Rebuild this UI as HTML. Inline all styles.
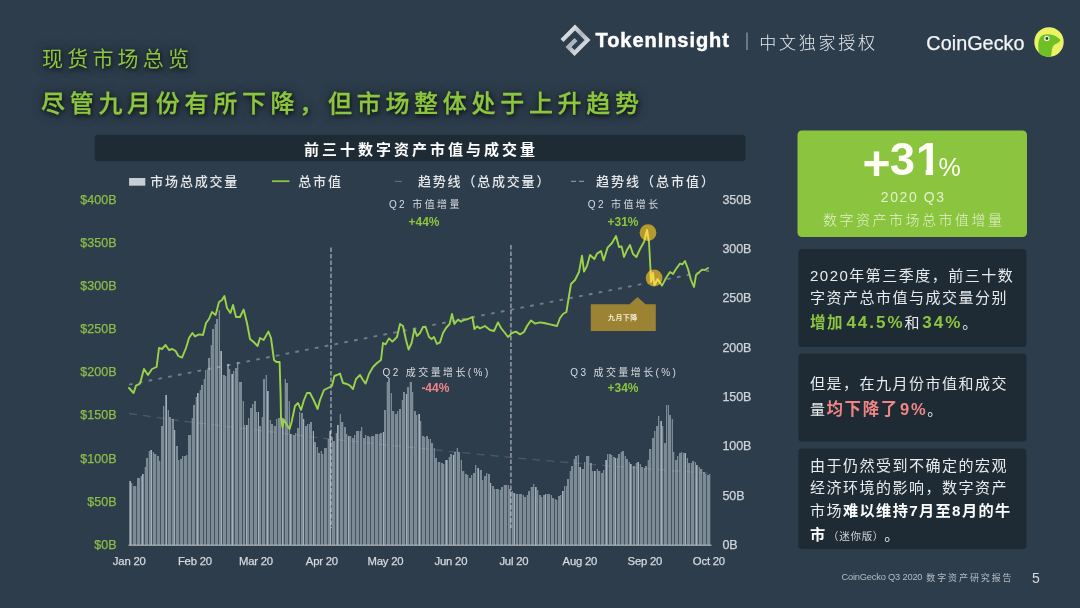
<!DOCTYPE html>
<html lang="zh-CN">
<head>
<meta charset="utf-8">
<title>现货市场总览</title>
<style>
html,body{margin:0;padding:0;background:#2e3d4c;}
body{width:1080px;height:608px;position:relative;overflow:hidden;font-family:'Liberation Sans','Noto Sans CJK SC',sans-serif;}
.chart{position:absolute;left:0;top:0;}
.t{position:absolute;white-space:nowrap;}
.p{position:absolute;left:810px;width:220px;font-size:15px;line-height:23.3px;letter-spacing:1.35px;color:#e8ebee;font-family:'Liberation Sans','Noto Sans CJK SC',sans-serif;white-space:nowrap;}
.p b{font-weight:700;}
</style>
</head>
<body>
<svg class="chart" width="1080" height="608" viewBox="0 0 1080 608">
<defs>
<clipPath id="gk"><circle cx="1049" cy="42" r="14.7"/></clipPath>
<clipPath id="cc"><circle cx="648" cy="232.6" r="8.4"/><circle cx="654.1" cy="278" r="8.4"/></clipPath>
<linearGradient id="sil" x1="0" y1="0" x2="1" y2="1"><stop offset="0" stop-color="#ffffff"/><stop offset=".5" stop-color="#aab3bc"/><stop offset="1" stop-color="#f4f6f8"/></linearGradient>
</defs>
<!-- chart title bar -->
<rect x="94.8" y="134.7" width="650.6" height="26.5" rx="3" fill="#1f2b34"/>
<!-- legend marks -->
<rect x="129.1" y="178" width="16.2" height="7.7" fill="#c6cdd4"/>
<path d="M272 181.2h17.5" stroke="#8cc63f" stroke-width="1.8"/>
<path d="M395 181.4h7" stroke="#8d98a3" stroke-width="1" opacity=".6"/>
<path d="M571 181.4h5M579 181.4h5" stroke="#aab3bc" stroke-width="1.2" opacity=".7"/>
<!-- volume bars -->
<path d="M129 545V481h1h1V483h1h1V486h1h1h1h1V478h1h1h1V476h1h1V474h1h1V467h1h1V458h1h1V451h1h1V450h1h1V452h1h1V454h1h1h1V456h1h1V461h1h1V426h1h1V406h1h1V395h1h1V410h1h1V417h1h1V419h1h1h1V430h1h1V446h1h1V460h1h1V459h1h1V456h1h1h1h1V455h1h1V435h1h1h1V418h1h1V405h1h1V397h1h1V393h1h1V390h1h1V385h1h1V379h1h1V370h1h1h1V358h1h1V345h1h1V329h1h1V324h1h1V319h1h1V310h1h1V351h1h1V375h1h1h1V376h1h1V364h1h1V369h1h1V374h1h1V371h1h1V368h1h1V362h1h1V382h1h1h1V401h1h1V425h1h1h1h1V418h1h1V408h1h1V404h1h1V401h1h1V412h1h1h1V426h1h1V417h1h1V379h1h1V375h1h1V391h1h1V420h1h1V424h1h1V426h1h1h1V419h1h1V418h1h1V417h1h1V418h1h1V379h1h1V383h1h1V401h1h1V434h1h1h1V435h1h1V433h1h1V428h1h1V412h1h1V413h1h1V419h1h1V426h1h1V424h1h1h1V422h1h1V431h1h1V442h1h1V447h1h1V453h1h1V451h1h1V454h1h1V448h1h1h1V439h1h1V431h1h1V437h1h1V441h1h1V433h1h1V425h1h1V414h1h1V422h1h1h1V427h1h1V434h1h1V436h1h1h1h1V438h1h1V435h1h1V431h1h1h1h1h1V427h1h1V438h1h1V435h1h1V436h1h1V437h1h1V436h1h1h1h1V434h1h1h1h1h1V433h1h1V432h1h1V410h1h1V382h1h1V378h1h1V393h1h1V411h1h1h1V414h1h1V411h1h1V409h1h1V400h1h1V392h1h1V394h1h1V387h1h1V382h1h1h1V392h1h1V411h1h1V415h1h1V414h1h1V421h1h1V436h1h1V437h1h1V436h1h1V439h1h1h1V443h1h1V448h1h1V458h1h1V462h1h1h1h1V463h1h1V464h1h1V460h1h1h1V457h1h1V454h1h1V455h1h1V452h1h1V448h1h1V452h1h1V460h1h1V471h1h1h1V474h1h1V475h1h1V478h1h1V475h1h1V473h1h1V465h1h1V468h1h1V470h1h1h1V480h1h1V476h1h1V473h1h1V474h1h1V483h1h1V486h1h1V489h1h1h1h1h1V490h1h1V487h1h1V485h1h1h1h1h1h1V489h1h1V491h1h1V493h1h1h1V494h1h1h1h1h1h1V495h1h1V497h1h1V495h1h1V491h1h1V487h1h1h1V484h1h1V487h1h1V490h1h1V495h1h1V497h1h1V495h1h1V494h1h1h1h1h1V495h1h1V498h1h1V499h1h1V500h1h1V496h1h1V495h1h1V491h1h1V486h1h1h1V479h1h1V471h1h1V466h1h1V459h1h1V456h1h1V455h1h1V467h1h1V469h1h1h1V462h1h1V456h1h1h1h1V463h1h1V471h1h1h1h1V469h1h1V471h1h1h1V473h1h1V470h1h1V460h1h1V454h1h1h1h1V455h1h1V457h1h1V458h1h1h1V454h1h1V452h1h1V451h1h1V456h1h1V459h1h1V462h1h1V464h1h1V466h1h1h1V463h1h1V462h1h1V464h1h1V467h1h1V468h1h1V466h1h1V460h1h1V449h1h1h1V438h1h1V431h1h1V426h1h1V416h1h1V421h1h1V426h1h1V443h1h1V405h1h1h1V415h1h1V419h1h1V452h1h1V460h1h1V456h1h1V453h1h1V452h1h1V453h1h1h1V458h1h1V463h1h1h1h1V461h1h1V462h1h1V465h1h1V467h1h1V469h1h1h1V472h1h1V474h1h1V475h1h1V474h1h1V545z" fill="#46545f" shape-rendering="crispEdges"/>
<path d="M129 545V481h1h1V483h1V545zM133 545V486h1h1h1V545zM137 545V478h1h1h1V545zM141 545V476h1V474h1h1V545zM145 545V467h1V458h1h1V545zM149 545V451h1V450h1h1V545zM153 545V452h1V454h1h1V545zM157 545V456h1h1V461h1V545zM161 545V426h1h1V406h1V545zM165 545V395h1h1V545zM168 545V410h1V417h1h1V545zM172 545V419h1h1V430h1V545zM176 545V446h1h1V460h1V545zM180 545V459h1h1V456h1V545zM184 545V456h1h1V455h1V545zM188 545V435h1h1h1V545zM192 545V418h1V405h1h1V545zM196 545V397h1V393h1h1V545zM200 545V390h1V385h1h1V545zM204 545V379h1V370h1V545zM207 545V370h1V358h1h1V545zM211 545V345h1V329h1h1V545zM215 545V324h1V319h1h1V545zM219 545V310h1V351h1h1V545zM223 545V375h1h1V376h1V545zM227 545V364h1h1V369h1V545zM231 545V374h1h1V371h1V545zM235 545V368h1h1V362h1V545zM239 545V382h1h1h1V545zM243 545V401h1V425h1V545zM246 545V425h1h1V418h1V545zM250 545V408h1h1V404h1V545zM254 545V401h1h1V412h1V545zM258 545V412h1V426h1h1V545zM262 545V417h1V379h1h1V545zM266 545V375h1V391h1h1V545zM270 545V420h1V424h1h1V545zM274 545V426h1h1V419h1V545zM278 545V418h1h1V417h1V545zM282 545V418h1h1V545zM285 545V379h1V383h1h1V545zM289 545V401h1V434h1h1V545zM293 545V435h1h1V433h1V545zM297 545V428h1h1V412h1V545zM301 545V413h1h1V419h1V545zM305 545V426h1h1V424h1V545zM309 545V424h1V422h1h1V545zM313 545V431h1V442h1h1V545zM317 545V447h1V453h1h1V545zM321 545V451h1V454h1V545zM324 545V448h1h1h1V545zM328 545V439h1V431h1h1V545zM332 545V437h1V441h1h1V545zM336 545V433h1V425h1h1V545zM340 545V414h1V422h1h1V545zM344 545V427h1h1V434h1V545zM348 545V436h1h1h1V545zM352 545V438h1h1V435h1V545zM356 545V431h1h1h1V545zM360 545V431h1V427h1V545zM363 545V438h1h1V435h1V545zM367 545V436h1h1V437h1V545zM371 545V436h1h1h1V545zM375 545V434h1h1h1V545zM379 545V434h1V433h1h1V545zM383 545V432h1V410h1h1V545zM387 545V382h1V378h1h1V545zM391 545V393h1V411h1h1V545zM395 545V414h1h1V411h1V545zM399 545V409h1h1V545zM402 545V400h1V392h1h1V545zM406 545V394h1V387h1h1V545zM410 545V382h1h1V392h1V545zM414 545V411h1h1V415h1V545zM418 545V414h1h1V421h1V545zM422 545V436h1h1V437h1V545zM426 545V436h1h1V439h1V545zM430 545V439h1V443h1h1V545zM434 545V448h1V458h1h1V545zM438 545V462h1h1V545zM441 545V463h1h1V464h1V545zM445 545V460h1h1h1V545zM449 545V457h1V454h1h1V545zM453 545V455h1V452h1h1V545zM457 545V448h1V452h1h1V545zM461 545V460h1V471h1h1V545zM465 545V474h1h1V475h1V545zM469 545V478h1h1V475h1V545zM473 545V473h1h1V465h1V545zM477 545V468h1h1V545zM480 545V470h1h1V480h1V545zM484 545V476h1h1V473h1V545zM488 545V474h1h1V483h1V545zM492 545V486h1h1V489h1V545zM496 545V489h1h1h1V545zM500 545V490h1V487h1h1V545zM504 545V485h1h1h1V545zM508 545V485h1V489h1h1V545zM512 545V491h1V493h1h1V545zM516 545V494h1h1V545zM519 545V494h1h1h1V545zM523 545V495h1V497h1h1V545zM527 545V495h1V491h1h1V545zM531 545V487h1h1V484h1V545zM535 545V487h1h1V490h1V545zM539 545V495h1h1V497h1V545zM543 545V495h1h1V494h1V545zM547 545V494h1h1h1V545zM551 545V495h1V498h1h1V545zM555 545V499h1V500h1V545zM558 545V496h1h1V495h1V545zM562 545V491h1h1V486h1V545zM566 545V486h1V479h1h1V545zM570 545V471h1V466h1h1V545zM574 545V459h1V456h1h1V545zM578 545V455h1V467h1h1V545zM582 545V469h1h1V462h1V545zM586 545V456h1h1h1V545zM590 545V463h1h1V471h1V545zM594 545V471h1h1V545zM597 545V469h1V471h1h1V545zM601 545V473h1h1V470h1V545zM605 545V460h1h1V454h1V545zM609 545V454h1h1V455h1V545zM613 545V457h1h1V458h1V545zM617 545V458h1V454h1h1V545zM621 545V452h1V451h1h1V545zM625 545V456h1V459h1h1V545zM629 545V462h1V464h1h1V545zM633 545V466h1h1V545zM636 545V463h1V462h1h1V545zM640 545V464h1V467h1h1V545zM644 545V468h1V466h1h1V545zM648 545V460h1V449h1h1V545zM652 545V438h1h1V431h1V545zM656 545V426h1h1V416h1V545zM660 545V421h1h1V426h1V545zM664 545V443h1h1V405h1V545zM668 545V405h1V415h1h1V545zM672 545V419h1V452h1V545zM675 545V460h1h1V456h1V545zM679 545V453h1h1V452h1V545zM683 545V453h1h1h1V545zM687 545V458h1V463h1h1V545zM691 545V463h1V461h1h1V545zM695 545V462h1V465h1h1V545zM699 545V467h1V469h1h1V545zM703 545V472h1h1V474h1V545zM707 545V475h1h1V474h1V545z" fill="#7d8b96" shape-rendering="crispEdges"/>
<path d="M130 545V481h1V545zM142 545V474h1V545zM151 545V450h1V545zM166 545V395h1V545zM174 545V430h1V545zM197 545V393h1V545zM221 545V351h1V545zM232 545V374h1V545zM246 545V425h1V545zM258 545V412h1V545zM267 545V391h1V545zM282 545V418h1V545zM290 545V434h1V545zM303 545V419h1V545zM313 545V431h1V545zM330 545V431h1V545zM337 545V425h1V545zM348 545V436h1V545zM383 545V432h1V545zM406 545V394h1V545zM419 545V414h1V545zM446 545V460h1V545zM453 545V455h1V545zM478 545V468h1V545zM490 545V483h1V545zM514 545V493h1V545zM535 545V487h1V545zM545 545V494h1V545zM562 545V491h1V545zM580 545V467h1V545zM594 545V471h1V545zM606 545V460h1V545zM615 545V458h1V545zM630 545V464h1V545zM638 545V462h1V545zM661 545V421h1V545zM685 545V453h1V545zM696 545V465h1V545z" fill="#a3afb9" shape-rendering="crispEdges"/>
<!-- vertical quarter markers -->
<path d="M331 247.5V528M510.9 245V528" stroke="#c9d0d6" stroke-width="1.6" stroke-dasharray="4.4 2.1" opacity=".62" fill="none"/>
<path d="M128.5 545.2H711.5" stroke="#c3cad1" stroke-width="1"/>
<!-- trend lines -->
<path d="M129 413.5L182 421L321 438L446 451L520 458.4L598 465L678 471L711 473.5" stroke="#b8c1ca" stroke-width="1.3" stroke-dasharray="8 6" opacity=".22" fill="none"/>
<path d="M129 384.6L709 270.9" stroke="#b4bdc6" stroke-width="1.9" stroke-dasharray="3.7 6.27" opacity=".5" fill="none"/>
<!-- highlight circles -->
<!-- market cap line -->
<path d="M129.0 388.0L133.6 393.0L136.0 385.6L140.0 383.6L144.0 369.0L148.0 375.0L152.0 369.0L156.6 367.0L159.0 348.0L162.0 349.0L165.6 345.0L169.0 350.0L172.4 349.0L175.6 351.0L178.4 356.0L182.0 357.6L186.0 348.0L189.0 338.0L192.4 333.0L195.0 336.4L199.0 334.4L203.0 335.0L206.0 323.0L209.0 319.0L212.0 312.0L215.6 315.0L219.0 302.0L222.0 300.0L224.4 296.0L227.0 308.0L230.4 313.0L233.0 305.0L236.0 317.0L240.0 317.0L243.6 309.6L247.0 323.0L250.0 339.0L253.6 342.0L257.6 346.0L260.0 338.0L263.6 340.0L268.4 331.6L271.0 338.0L274.0 360.0L276.4 362.0L279.6 362.0L280.6 395.0L281.0 418.0L282.4 427.0L284.0 420.0L287.0 425.0L289.6 429.0L291.6 422.0L295.0 406.0L298.0 403.0L301.0 410.0L304.0 400.0L307.0 393.0L310.0 393.0L313.6 400.0L317.6 409.0L320.0 400.0L324.0 390.0L328.0 388.0L332.0 386.0L334.4 376.0L337.0 375.0L340.0 373.6L343.0 383.0L347.0 384.0L350.0 385.6L353.0 389.0L356.0 379.0L360.0 375.0L363.0 380.0L365.6 383.6L369.0 374.0L373.0 367.0L377.0 363.0L381.0 360.0L383.0 343.0L385.6 344.4L389.0 338.4L392.4 341.6L397.0 337.0L400.0 324.0L403.0 326.0L406.0 340.0L408.6 349.6L411.6 343.0L414.4 329.0L417.0 336.0L420.0 333.0L423.0 327.0L425.6 327.0L429.0 337.0L431.6 339.0L434.0 337.0L437.0 344.0L440.0 342.4L443.0 333.0L446.0 328.0L449.6 324.0L452.0 314.0L454.4 324.0L458.0 319.6L461.0 321.6L464.0 320.0L468.0 319.0L472.4 317.0L474.4 329.0L477.0 326.4L480.0 328.4L485.0 326.0L490.0 330.0L494.0 331.0L498.0 322.4L501.0 328.0L505.0 333.0L508.0 337.0L512.0 333.0L516.0 331.6L520.0 334.4L524.0 332.0L527.0 326.0L531.0 320.4L535.0 323.6L540.0 322.4L544.0 323.0L550.0 324.4L557.0 326.0L560.0 318.0L563.0 314.0L566.4 312.0L569.0 296.0L571.0 284.0L575.0 280.0L579.0 272.0L582.0 255.6L584.0 271.6L587.0 266.0L590.0 255.0L594.4 259.0L597.0 253.6L601.0 251.0L603.6 260.4L607.6 247.6L612.0 243.0L616.0 236.0L619.0 247.0L621.6 246.4L624.0 257.0L627.0 250.0L630.0 245.0L633.0 254.0L636.4 257.0L640.0 249.0L644.0 242.0L647.0 230.0L649.0 242.0L650.4 268.0L651.0 282.0L653.0 273.0L654.4 285.0L657.6 279.0L662.0 285.6L666.0 278.0L670.0 272.0L673.0 274.0L676.0 269.0L680.0 263.6L682.4 264.4L685.0 261.0L688.0 269.0L691.0 280.0L694.0 287.0L696.0 275.0L699.0 272.4L702.0 269.6L705.0 270.0L708.0 268.0" stroke="#9ad34a" stroke-width="1.9" stroke-linejoin="round" stroke-linecap="round" fill="none"/>
<circle cx="648" cy="232.6" r="8.4" fill="#c2a22c" opacity=".92"/>
<circle cx="654.1" cy="278" r="8.4" fill="#c2a22c" opacity=".92"/>
<g clip-path="url(#cc)"><path d="M129.0 388.0L133.6 393.0L136.0 385.6L140.0 383.6L144.0 369.0L148.0 375.0L152.0 369.0L156.6 367.0L159.0 348.0L162.0 349.0L165.6 345.0L169.0 350.0L172.4 349.0L175.6 351.0L178.4 356.0L182.0 357.6L186.0 348.0L189.0 338.0L192.4 333.0L195.0 336.4L199.0 334.4L203.0 335.0L206.0 323.0L209.0 319.0L212.0 312.0L215.6 315.0L219.0 302.0L222.0 300.0L224.4 296.0L227.0 308.0L230.4 313.0L233.0 305.0L236.0 317.0L240.0 317.0L243.6 309.6L247.0 323.0L250.0 339.0L253.6 342.0L257.6 346.0L260.0 338.0L263.6 340.0L268.4 331.6L271.0 338.0L274.0 360.0L276.4 362.0L279.6 362.0L280.6 395.0L281.0 418.0L282.4 427.0L284.0 420.0L287.0 425.0L289.6 429.0L291.6 422.0L295.0 406.0L298.0 403.0L301.0 410.0L304.0 400.0L307.0 393.0L310.0 393.0L313.6 400.0L317.6 409.0L320.0 400.0L324.0 390.0L328.0 388.0L332.0 386.0L334.4 376.0L337.0 375.0L340.0 373.6L343.0 383.0L347.0 384.0L350.0 385.6L353.0 389.0L356.0 379.0L360.0 375.0L363.0 380.0L365.6 383.6L369.0 374.0L373.0 367.0L377.0 363.0L381.0 360.0L383.0 343.0L385.6 344.4L389.0 338.4L392.4 341.6L397.0 337.0L400.0 324.0L403.0 326.0L406.0 340.0L408.6 349.6L411.6 343.0L414.4 329.0L417.0 336.0L420.0 333.0L423.0 327.0L425.6 327.0L429.0 337.0L431.6 339.0L434.0 337.0L437.0 344.0L440.0 342.4L443.0 333.0L446.0 328.0L449.6 324.0L452.0 314.0L454.4 324.0L458.0 319.6L461.0 321.6L464.0 320.0L468.0 319.0L472.4 317.0L474.4 329.0L477.0 326.4L480.0 328.4L485.0 326.0L490.0 330.0L494.0 331.0L498.0 322.4L501.0 328.0L505.0 333.0L508.0 337.0L512.0 333.0L516.0 331.6L520.0 334.4L524.0 332.0L527.0 326.0L531.0 320.4L535.0 323.6L540.0 322.4L544.0 323.0L550.0 324.4L557.0 326.0L560.0 318.0L563.0 314.0L566.4 312.0L569.0 296.0L571.0 284.0L575.0 280.0L579.0 272.0L582.0 255.6L584.0 271.6L587.0 266.0L590.0 255.0L594.4 259.0L597.0 253.6L601.0 251.0L603.6 260.4L607.6 247.6L612.0 243.0L616.0 236.0L619.0 247.0L621.6 246.4L624.0 257.0L627.0 250.0L630.0 245.0L633.0 254.0L636.4 257.0L640.0 249.0L644.0 242.0L647.0 230.0L649.0 242.0L650.4 268.0L651.0 282.0L653.0 273.0L654.4 285.0L657.6 279.0L662.0 285.6L666.0 278.0L670.0 272.0L673.0 274.0L676.0 269.0L680.0 263.6L682.4 264.4L685.0 261.0L688.0 269.0L691.0 280.0L694.0 287.0L696.0 275.0L699.0 272.4L702.0 269.6L705.0 270.0L708.0 268.0" stroke="#ecd94c" stroke-width="1.9" stroke-linejoin="round" stroke-linecap="round" fill="none"/></g>
<!-- gold callout -->
<path d="M590.8 304.2H629.5L637.5 297L645.5 304.2H655.8V331H590.8z" fill="#9c8233"/>
<!-- right panel -->
<rect x="797.5" y="130.5" width="229.5" height="106.5" rx="4.5" fill="#8bc53f"/>
<rect x="798.3" y="249" width="228.2" height="98" rx="3.5" fill="#1f2b34"/>
<rect x="798.3" y="353.5" width="228.2" height="88" rx="3.5" fill="#1f2b34"/>
<rect x="798.3" y="448.5" width="228.2" height="100.5" rx="3.5" fill="#1f2b34"/>
<!-- TokenInsight mark -->
<g fill="none" stroke="url(#sil)" stroke-width="4.2" stroke-linejoin="miter">
<path d="M562 40.5L575 27.5L587.5 40L574.5 53L568.5 47L576 39.5"/>
</g>
<path d="M747 32.5V50" stroke="#a9b2bb" stroke-width="1"/>
<!-- CoinGecko mark -->
<circle cx="1049" cy="42" r="14.7" fill="#ebf266"/>
<g clip-path="url(#gk)"><path d="M1039 53C1037.600 46 1038 37.500 1042.500 35.200C1047 33.400 1053 34 1057 37C1059 38.500 1060.600 39.500 1060.200 40.600C1059.400 43 1055 43.600 1053 46.500C1051.300 49.500 1052 54 1050.500 58H1040z" fill="#6ec024"/></g>
<circle cx="1046.8" cy="38.4" r="2.7" fill="#eef4e0"/>
<circle cx="1046.9" cy="38.5" r="1.4" fill="#2c3a2a"/>
</svg>
<div class="t" style="top:42.8px;height:29px;line-height:29px;font-size:21px;color:#8cc63f;font-weight:400;font-family:'Noto Sans CJK SC','Liberation Sans',sans-serif;letter-spacing:4.2px;left:42.0px;text-shadow:1px 2px 4px rgba(0,0,0,.6),0 1px 9px rgba(0,0,0,.5),0 0 14px rgba(0,0,0,.25);">现货市场总览</div>
<div class="t" style="top:85.0px;height:34px;line-height:34px;font-size:24px;color:#8cc63f;font-weight:500;font-family:'Noto Sans CJK SC','Liberation Sans',sans-serif;letter-spacing:4.7px;left:41.0px;text-shadow:1px 2px 4px rgba(0,0,0,.6),0 1px 9px rgba(0,0,0,.5),0 0 14px rgba(0,0,0,.25);-webkit-text-stroke:.3px #8cc63f;">尽管九月份有所下降，但市场整体处于上升趋势</div>
<div class="t" style="top:25.8px;height:28px;line-height:28px;font-size:20px;color:#fff;font-weight:700;font-family:'Liberation Sans','Noto Sans CJK SC',sans-serif;letter-spacing:0.95px;left:595.5px;-webkit-text-stroke:.45px #fff;">TokenInsight</div>
<div class="t" style="top:29.6px;height:24px;line-height:24px;font-size:17px;color:#e4e8ec;font-weight:300;font-family:'Noto Sans CJK SC','Liberation Sans',sans-serif;letter-spacing:2.75px;left:759.3px;">中文独家授权</div>
<div class="t" style="top:29.2px;height:28px;line-height:28px;font-size:19.8px;color:#f2f4f6;font-weight:400;font-family:'Liberation Sans','Noto Sans CJK SC',sans-serif;letter-spacing:0.05px;left:926.3px;-webkit-text-stroke:.25px #f2f4f6;">CoinGecko</div>
<div class="t" style="top:137.5px;height:21px;line-height:21px;font-size:15px;color:#fff;font-weight:700;font-family:'Noto Sans CJK SC','Liberation Sans',sans-serif;letter-spacing:3.0px;left:119.5px;width:600px;text-align:center;text-indent:3.0px;">前三十数字资产市值与成交量</div>
<div class="t" style="top:171.8px;height:18px;line-height:18px;font-size:13px;color:#e6e9ec;font-weight:500;font-family:'Noto Sans CJK SC','Liberation Sans',sans-serif;letter-spacing:1.8px;left:150.3px;">市场总成交量</div>
<div class="t" style="top:171.8px;height:18px;line-height:18px;font-size:13px;color:#e6e9ec;font-weight:500;font-family:'Noto Sans CJK SC','Liberation Sans',sans-serif;letter-spacing:1.8px;left:298.3px;">总市值</div>
<div class="t" style="top:171.8px;height:18px;line-height:18px;font-size:13px;color:#e6e9ec;font-weight:500;font-family:'Noto Sans CJK SC','Liberation Sans',sans-serif;letter-spacing:1.8px;left:418.0px;">趋势线（总成交量）</div>
<div class="t" style="top:171.8px;height:18px;line-height:18px;font-size:13px;color:#e6e9ec;font-weight:500;font-family:'Noto Sans CJK SC','Liberation Sans',sans-serif;letter-spacing:2.0px;left:596.0px;">趋势线（总市值）</div>
<div class="t" style="top:190.5px;height:18px;line-height:18px;font-size:12.5px;color:#8bbd48;font-weight:400;font-family:'Liberation Sans','Noto Sans CJK SC',sans-serif;letter-spacing:0.05px;right:963.5px;margin-right:-0.05px;-webkit-text-stroke:.25px #8bbd48;">$400B</div>
<div class="t" style="top:233.7px;height:18px;line-height:18px;font-size:12.5px;color:#8bbd48;font-weight:400;font-family:'Liberation Sans','Noto Sans CJK SC',sans-serif;letter-spacing:0.05px;right:963.5px;margin-right:-0.05px;-webkit-text-stroke:.25px #8bbd48;">$350B</div>
<div class="t" style="top:276.9px;height:18px;line-height:18px;font-size:12.5px;color:#8bbd48;font-weight:400;font-family:'Liberation Sans','Noto Sans CJK SC',sans-serif;letter-spacing:0.05px;right:963.5px;margin-right:-0.05px;-webkit-text-stroke:.25px #8bbd48;">$300B</div>
<div class="t" style="top:320.1px;height:18px;line-height:18px;font-size:12.5px;color:#8bbd48;font-weight:400;font-family:'Liberation Sans','Noto Sans CJK SC',sans-serif;letter-spacing:0.05px;right:963.5px;margin-right:-0.05px;-webkit-text-stroke:.25px #8bbd48;">$250B</div>
<div class="t" style="top:363.2px;height:18px;line-height:18px;font-size:12.5px;color:#8bbd48;font-weight:400;font-family:'Liberation Sans','Noto Sans CJK SC',sans-serif;letter-spacing:0.05px;right:963.5px;margin-right:-0.05px;-webkit-text-stroke:.25px #8bbd48;">$200B</div>
<div class="t" style="top:406.4px;height:18px;line-height:18px;font-size:12.5px;color:#8bbd48;font-weight:400;font-family:'Liberation Sans','Noto Sans CJK SC',sans-serif;letter-spacing:0.05px;right:963.5px;margin-right:-0.05px;-webkit-text-stroke:.25px #8bbd48;">$150B</div>
<div class="t" style="top:449.6px;height:18px;line-height:18px;font-size:12.5px;color:#8bbd48;font-weight:400;font-family:'Liberation Sans','Noto Sans CJK SC',sans-serif;letter-spacing:0.05px;right:963.5px;margin-right:-0.05px;-webkit-text-stroke:.25px #8bbd48;">$100B</div>
<div class="t" style="top:492.8px;height:18px;line-height:18px;font-size:12.5px;color:#8bbd48;font-weight:400;font-family:'Liberation Sans','Noto Sans CJK SC',sans-serif;letter-spacing:0.05px;right:963.5px;margin-right:-0.05px;-webkit-text-stroke:.25px #8bbd48;">$50B</div>
<div class="t" style="top:536.0px;height:18px;line-height:18px;font-size:12.5px;color:#8bbd48;font-weight:400;font-family:'Liberation Sans','Noto Sans CJK SC',sans-serif;letter-spacing:0.05px;right:963.5px;margin-right:-0.05px;-webkit-text-stroke:.25px #8bbd48;">$0B</div>
<div class="t" style="top:190.5px;height:18px;line-height:18px;font-size:12.5px;color:#cfd4d9;font-weight:400;font-family:'Liberation Sans','Noto Sans CJK SC',sans-serif;letter-spacing:-0.1px;left:722.5px;-webkit-text-stroke:.25px #cfd4d9;">350B</div>
<div class="t" style="top:239.9px;height:18px;line-height:18px;font-size:12.5px;color:#cfd4d9;font-weight:400;font-family:'Liberation Sans','Noto Sans CJK SC',sans-serif;letter-spacing:-0.1px;left:722.5px;-webkit-text-stroke:.25px #cfd4d9;">300B</div>
<div class="t" style="top:289.2px;height:18px;line-height:18px;font-size:12.5px;color:#cfd4d9;font-weight:400;font-family:'Liberation Sans','Noto Sans CJK SC',sans-serif;letter-spacing:-0.1px;left:722.5px;-webkit-text-stroke:.25px #cfd4d9;">250B</div>
<div class="t" style="top:338.6px;height:18px;line-height:18px;font-size:12.5px;color:#cfd4d9;font-weight:400;font-family:'Liberation Sans','Noto Sans CJK SC',sans-serif;letter-spacing:-0.1px;left:722.5px;-webkit-text-stroke:.25px #cfd4d9;">200B</div>
<div class="t" style="top:387.9px;height:18px;line-height:18px;font-size:12.5px;color:#cfd4d9;font-weight:400;font-family:'Liberation Sans','Noto Sans CJK SC',sans-serif;letter-spacing:-0.1px;left:722.5px;-webkit-text-stroke:.25px #cfd4d9;">150B</div>
<div class="t" style="top:437.3px;height:18px;line-height:18px;font-size:12.5px;color:#cfd4d9;font-weight:400;font-family:'Liberation Sans','Noto Sans CJK SC',sans-serif;letter-spacing:-0.1px;left:722.5px;-webkit-text-stroke:.25px #cfd4d9;">100B</div>
<div class="t" style="top:486.6px;height:18px;line-height:18px;font-size:12.5px;color:#cfd4d9;font-weight:400;font-family:'Liberation Sans','Noto Sans CJK SC',sans-serif;letter-spacing:-0.1px;left:722.5px;-webkit-text-stroke:.25px #cfd4d9;">50B</div>
<div class="t" style="top:536.0px;height:18px;line-height:18px;font-size:12.5px;color:#cfd4d9;font-weight:400;font-family:'Liberation Sans','Noto Sans CJK SC',sans-serif;letter-spacing:-0.1px;left:722.5px;-webkit-text-stroke:.25px #cfd4d9;">0B</div>
<div class="t" style="top:552.8px;height:16px;line-height:16px;font-size:11.3px;color:#d5dade;font-weight:400;font-family:'Liberation Sans','Noto Sans CJK SC',sans-serif;letter-spacing:-0.2px;left:-170.7px;width:600px;text-align:center;text-indent:-0.2px;-webkit-text-stroke:.25px #d5dade;">Jan 20</div>
<div class="t" style="top:552.8px;height:16px;line-height:16px;font-size:11.3px;color:#d5dade;font-weight:400;font-family:'Liberation Sans','Noto Sans CJK SC',sans-serif;letter-spacing:-0.2px;left:-105.0px;width:600px;text-align:center;text-indent:-0.2px;-webkit-text-stroke:.25px #d5dade;">Feb 20</div>
<div class="t" style="top:552.8px;height:16px;line-height:16px;font-size:11.3px;color:#d5dade;font-weight:400;font-family:'Liberation Sans','Noto Sans CJK SC',sans-serif;letter-spacing:-0.2px;left:-44.0px;width:600px;text-align:center;text-indent:-0.2px;-webkit-text-stroke:.25px #d5dade;">Mar 20</div>
<div class="t" style="top:552.8px;height:16px;line-height:16px;font-size:11.3px;color:#d5dade;font-weight:400;font-family:'Liberation Sans','Noto Sans CJK SC',sans-serif;letter-spacing:-0.2px;left:22.0px;width:600px;text-align:center;text-indent:-0.2px;-webkit-text-stroke:.25px #d5dade;">Apr 20</div>
<div class="t" style="top:552.8px;height:16px;line-height:16px;font-size:11.3px;color:#d5dade;font-weight:400;font-family:'Liberation Sans','Noto Sans CJK SC',sans-serif;letter-spacing:-0.2px;left:85.5px;width:600px;text-align:center;text-indent:-0.2px;-webkit-text-stroke:.25px #d5dade;">May 20</div>
<div class="t" style="top:552.8px;height:16px;line-height:16px;font-size:11.3px;color:#d5dade;font-weight:400;font-family:'Liberation Sans','Noto Sans CJK SC',sans-serif;letter-spacing:-0.2px;left:151.0px;width:600px;text-align:center;text-indent:-0.2px;-webkit-text-stroke:.25px #d5dade;">Jun 20</div>
<div class="t" style="top:552.8px;height:16px;line-height:16px;font-size:11.3px;color:#d5dade;font-weight:400;font-family:'Liberation Sans','Noto Sans CJK SC',sans-serif;letter-spacing:-0.2px;left:214.0px;width:600px;text-align:center;text-indent:-0.2px;-webkit-text-stroke:.25px #d5dade;">Jul 20</div>
<div class="t" style="top:552.8px;height:16px;line-height:16px;font-size:11.3px;color:#d5dade;font-weight:400;font-family:'Liberation Sans','Noto Sans CJK SC',sans-serif;letter-spacing:-0.2px;left:280.0px;width:600px;text-align:center;text-indent:-0.2px;-webkit-text-stroke:.25px #d5dade;">Aug 20</div>
<div class="t" style="top:552.8px;height:16px;line-height:16px;font-size:11.3px;color:#d5dade;font-weight:400;font-family:'Liberation Sans','Noto Sans CJK SC',sans-serif;letter-spacing:-0.2px;left:345.0px;width:600px;text-align:center;text-indent:-0.2px;-webkit-text-stroke:.25px #d5dade;">Sep 20</div>
<div class="t" style="top:552.8px;height:16px;line-height:16px;font-size:11.3px;color:#d5dade;font-weight:400;font-family:'Liberation Sans','Noto Sans CJK SC',sans-serif;letter-spacing:-0.2px;left:409.0px;width:600px;text-align:center;text-indent:-0.2px;-webkit-text-stroke:.25px #d5dade;">Oct 20</div>
<div class="t" style="top:197.5px;height:14px;line-height:14px;font-size:10px;color:#d6dbe0;font-weight:400;font-family:'Liberation Sans','Noto Sans CJK SC',sans-serif;letter-spacing:2.4px;left:124.2px;width:600px;text-align:center;text-indent:2.4px;">Q2 市值增量</div>
<div class="t" style="top:213.8px;height:17px;line-height:17px;font-size:12px;color:#8cc63f;font-weight:700;font-family:'Liberation Sans','Noto Sans CJK SC',sans-serif;left:124.0px;width:600px;text-align:center;">+44%</div>
<div class="t" style="top:197.8px;height:14px;line-height:14px;font-size:10px;color:#d6dbe0;font-weight:400;font-family:'Liberation Sans','Noto Sans CJK SC',sans-serif;letter-spacing:2.4px;left:323.0px;width:600px;text-align:center;text-indent:2.4px;">Q2 市值增长</div>
<div class="t" style="top:213.8px;height:17px;line-height:17px;font-size:12px;color:#8cc63f;font-weight:700;font-family:'Liberation Sans','Noto Sans CJK SC',sans-serif;left:323.0px;width:600px;text-align:center;">+31%</div>
<div class="t" style="top:366.0px;height:14px;line-height:14px;font-size:10px;color:#d6dbe0;font-weight:400;font-family:'Liberation Sans','Noto Sans CJK SC',sans-serif;letter-spacing:2.4px;left:135.4px;width:600px;text-align:center;text-indent:2.4px;">Q2 成交量增长(%)</div>
<div class="t" style="top:380.1px;height:17px;line-height:17px;font-size:12px;color:#f08585;font-weight:700;font-family:'Liberation Sans','Noto Sans CJK SC',sans-serif;left:135.4px;width:600px;text-align:center;">-44%</div>
<div class="t" style="top:366.3px;height:14px;line-height:14px;font-size:10px;color:#d6dbe0;font-weight:400;font-family:'Liberation Sans','Noto Sans CJK SC',sans-serif;letter-spacing:2.4px;left:323.1px;width:600px;text-align:center;text-indent:2.4px;">Q3 成交量增长(%)</div>
<div class="t" style="top:380.1px;height:17px;line-height:17px;font-size:12px;color:#8cc63f;font-weight:700;font-family:'Liberation Sans','Noto Sans CJK SC',sans-serif;left:323.0px;width:600px;text-align:center;">+34%</div>
<div class="t" style="top:311.9px;height:10px;line-height:10px;font-size:7px;color:#f3ecd0;font-weight:700;font-family:'Noto Sans CJK SC','Liberation Sans',sans-serif;letter-spacing:0.4px;left:322.6px;width:600px;text-align:center;text-indent:0.4px;">九月下降</div>
<div class="t" style="top:137.5px;height:52px;line-height:52px;font-size:48px;color:#fffff6;font-weight:700;font-family:'Liberation Sans','Noto Sans CJK SC',sans-serif;left:862.6px;">+</div>
<div class="t" style="top:133.5px;height:52px;line-height:52px;font-size:45.5px;color:#fffff6;font-weight:700;font-family:'Liberation Sans','Noto Sans CJK SC',sans-serif;left:889.8px;">3</div>
<div class="t" style="top:133.5px;height:52px;line-height:52px;font-size:45.5px;color:#fffff6;font-weight:700;font-family:'Liberation Sans','Noto Sans CJK SC',sans-serif;left:915.9px;clip-path:polygon(0 0,100% 0,100% 36.3px,17.2px 36.3px,17.2px 100%,9.8px 100%,9.8px 36.3px,0 36.3px);">1</div>
<div class="t" style="top:152.0px;height:30px;line-height:30px;font-size:25px;color:#fffff6;font-weight:400;font-family:'Liberation Sans','Noto Sans CJK SC',sans-serif;left:938.5px;">%</div>
<div class="t" style="top:187.0px;height:20px;line-height:20px;font-size:14px;color:#e3f1cd;font-weight:400;font-family:'Liberation Sans','Noto Sans CJK SC',sans-serif;letter-spacing:1.6px;left:612.5px;width:600px;text-align:center;text-indent:1.6px;">2020 Q3</div>
<div class="t" style="top:209.0px;height:20px;line-height:20px;font-size:14px;color:#e3f1cd;font-weight:300;font-family:'Noto Sans CJK SC','Liberation Sans',sans-serif;letter-spacing:2.5px;left:612.5px;width:600px;text-align:center;text-indent:2.5px;">数字资产市场总市值增量</div>
<div class="t" style="top:571.0px;height:13px;line-height:13px;font-size:9.3px;color:#b4bdc5;font-weight:400;font-family:'Liberation Sans','Noto Sans CJK SC',sans-serif;letter-spacing:-0.2px;left:841.5px;">CoinGecko Q3 2020</div>
<div class="t" style="top:571.0px;height:13px;line-height:13px;font-size:9px;color:#b4bdc5;font-weight:400;font-family:'Noto Sans CJK SC','Liberation Sans',sans-serif;letter-spacing:1.9px;left:926.3px;">数字资产研究报告</div>
<div class="t" style="top:567.5px;height:20px;line-height:20px;font-size:14px;color:#d5dade;font-weight:400;font-family:'Liberation Sans','Noto Sans CJK SC',sans-serif;left:1032.0px;">5</div>
<div class="t" style="top:264.2px;height:24px;line-height:24px;font-size:15px;color:#e8ebee;font-weight:400;font-family:'Liberation Sans','Noto Sans CJK SC',sans-serif;letter-spacing:1.5px;left:810.0px;">2020年第三季度，前三十数</div>
<div class="t" style="top:285.6px;height:24px;line-height:24px;font-size:15px;color:#e8ebee;font-weight:400;font-family:'Liberation Sans','Noto Sans CJK SC',sans-serif;letter-spacing:1.5px;left:810.0px;">字资产总市值与成交量分别</div>
<div class="t" style="top:310.5px;height:24px;line-height:24px;font-size:15px;color:#e8ebee;font-weight:400;font-family:'Liberation Sans','Noto Sans CJK SC',sans-serif;letter-spacing:1.5px;left:810.0px;"><b style="color:#8cc63f;font-size:15.5px;letter-spacing:1.4px;margin-left:0px">增加</b><b style="color:#8cc63f;font-size:17px;letter-spacing:2.0px;margin-left:2.6px">44.5%</b>和<b style="color:#8cc63f;font-size:17px;letter-spacing:2.0px;margin-left:1.2px">34%</b>。</div>
<div class="t" style="top:372.1px;height:24px;line-height:24px;font-size:15px;color:#e8ebee;font-weight:400;font-family:'Liberation Sans','Noto Sans CJK SC',sans-serif;letter-spacing:1.5px;left:810.0px;">但是，在九月份市值和成交</div>
<div class="t" style="top:396.8px;height:24px;line-height:24px;font-size:15px;color:#e8ebee;font-weight:400;font-family:'Liberation Sans','Noto Sans CJK SC',sans-serif;letter-spacing:1.5px;left:810.0px;">量<b style="color:#f08585;font-size:16.5px;letter-spacing:1.6px;margin-left:0px">均下降了</b><b style="color:#f08585;font-size:16.5px;letter-spacing:1.7px;margin-left:1.2px">9%</b>。</div>
<div class="t" style="top:454.2px;height:24px;line-height:24px;font-size:15px;color:#e8ebee;font-weight:400;font-family:'Liberation Sans','Noto Sans CJK SC',sans-serif;letter-spacing:1.5px;left:810.0px;">由于仍然受到不确定的宏观</div>
<div class="t" style="top:475.5px;height:24px;line-height:24px;font-size:15px;color:#e8ebee;font-weight:400;font-family:'Liberation Sans','Noto Sans CJK SC',sans-serif;letter-spacing:1.5px;left:810.0px;">经济环境的影响，数字资产</div>
<div class="t" style="top:499.2px;height:24px;line-height:24px;font-size:15px;color:#e8ebee;font-weight:400;font-family:'Liberation Sans','Noto Sans CJK SC',sans-serif;letter-spacing:1.5px;left:810.0px;">市场<b style="color:#fff;font-size:15.2px;letter-spacing:1.36px;margin-left:0px">难以维持7月至8月的牛</b></div>
<div class="t" style="top:523.0px;height:24px;line-height:24px;font-size:15px;color:#e8ebee;font-weight:400;font-family:'Liberation Sans','Noto Sans CJK SC',sans-serif;letter-spacing:1.5px;left:810.0px;"><b style="color:#fff;font-size:15.2px;letter-spacing:1.36px;margin-left:0px">市</b><span style="font-size:10.5px;letter-spacing:.7px;color:#cfd4d9;margin-left:1.5px">（迷你版）</span><span style="margin-left:5.5px">。</span></div>

</body>
</html>
